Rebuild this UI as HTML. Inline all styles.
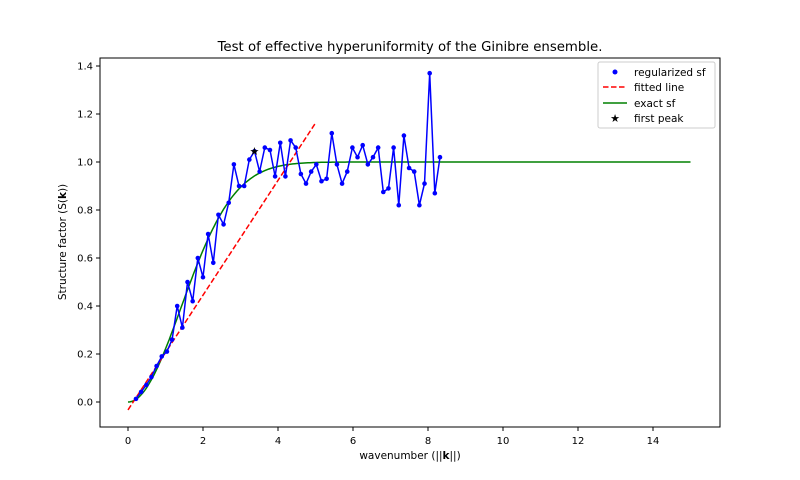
<!DOCTYPE html>
<html><head><meta charset="utf-8"><style>
body{margin:0;background:#fff;}
svg{display:block;font-family:"DejaVu Sans","Liberation Sans",sans-serif;}
</style></head><body>
<svg id="chart" width="800" height="480" xmlns="http://www.w3.org/2000/svg">
<rect width="800" height="480" fill="#fff"/>
<text x="410" y="51" text-anchor="middle" font-size="13.3">Test of effective hyperuniformity of the Ginibre ensemble.</text>
<g id="plot"></g>
<rect x="100" y="58" width="620" height="369" fill="none" stroke="#000" stroke-width="1"/>
<text x="410" y="459" text-anchor="middle" font-size="10.5">wavenumber (||<tspan font-weight="bold">k</tspan>||)</text>
<text transform="translate(66,242) rotate(-90)" text-anchor="middle" font-size="10.5">Structure factor (S(<tspan font-weight="bold">k</tspan>))</text>
<g>
<rect x="598" y="62" width="117" height="66" rx="2" fill="#fff" stroke="#ccc"/>
<circle cx="615" cy="72" r="2.5" fill="#0000ff"/>
<text x="634" y="76" font-size="10.5">regularized sf</text>
<line x1="603" y1="87" x2="627" y2="87" stroke="#ff0000" stroke-width="1.5" stroke-dasharray="5.5,2.5"/>
<text x="634" y="91" font-size="10.5">fitted line</text>
<line x1="603" y1="103" x2="627" y2="103" stroke="#008000" stroke-width="1.5"/>
<text x="634" y="107" font-size="10.5">exact sf</text>
<text x="615" y="122" font-size="11" text-anchor="middle">★</text>
<text x="634" y="122" font-size="10.5">first peak</text>
</g>
</svg>
<script>
const sfValues=[0.013,0.042,0.071,0.104,0.15,0.19,0.21,0.26,0.40,0.31,0.50,0.42,0.60,0.52,0.70,0.58,0.78,0.74,0.83,0.99,0.90,0.90,1.01,1.045,0.96,1.06,1.05,0.94,1.08,0.94,
1.09,1.06,0.95,0.91,0.96,0.99,0.92,0.93,1.12,0.99,0.91,0.96,1.06,1.02,1.07,0.99,1.02,1.06,0.875,0.89,1.06,0.82,1.11,0.975,0.96,0.82,0.91,1.37,0.87,1.02];
const kStart=0.213;
const kStep=0.1374;
const peakIndex=23;
const fitLine=[[0,-0.033],[4.99,1.16]];
const xTicks=[0,2,4,6,8,10,12,14];
const yTicks=[0.0,0.2,0.4,0.6,0.8,1.0,1.2,1.4];
const exactRange=[0,15];

const X=k=>128+k*37.5;
const Y=s=>402-s*240;
const NS="http://www.w3.org/2000/svg";
const svg=document.getElementById('chart');
const g=document.getElementById('plot');
function mk(t,a,p){const e=document.createElementNS(NS,t);for(const k in a)e.setAttribute(k,a[k]);(p||g).appendChild(e);return e;}

xTicks.forEach(v=>{
 const t=mk('line',{x1:X(v),x2:X(v),y1:427,y2:431,stroke:'#000'},svg);
 
 
 const l=mk('text',{x:X(v),y:444,'text-anchor':'middle','font-size':'10'},svg);
 l.textContent=v;
 
 
});
yTicks.forEach(v=>{
 const t=mk('line',{x1:96,x2:100,y1:Y(v),y2:Y(v),stroke:'#000'},svg);
 
 
 const l=mk('text',{x:93,y:Y(v)+3.5,'text-anchor':'end','font-size':'10'},svg);
 l.textContent=v.toFixed(1);
 
 
});

let d='';
for(let i=0;i<=300;i++){const k=exactRange[0]+(exactRange[1]-exactRange[0])*i/300;d+=(i?'L':'M')+X(k).toFixed(1)+','+Y(1-Math.exp(-k*k/4)).toFixed(1);}
const ex=mk('path',{d:d,fill:'none',stroke:'#008000','stroke-width':1.5});



const fl=mk('line',{x1:X(fitLine[0][0]),y1:Y(fitLine[0][1]),x2:X(fitLine[1][0]),y2:Y(fitLine[1][1]),stroke:'#ff0000','stroke-width':1.5,'stroke-dasharray':'5.5,2.5'});



const pts=sfValues.map((s,i)=>[X(kStart+i*kStep),Y(s)]);
const sl=mk('polyline',{points:pts.map(p=>p[0].toFixed(1)+','+p[1].toFixed(1)).join(' '),fill:'none',stroke:'#0000ff','stroke-width':1.5});


pts.forEach(p=>{
 const c=mk('circle',{cx:p[0],cy:p[1],r:2.3,fill:'#0000ff'});
 
 
});
const pk=mk('text',{x:X(kStart+peakIndex*kStep),y:Y(sfValues[peakIndex])+4,'text-anchor':'middle','font-size':'11'});
pk.textContent='★';


</script>
</body></html>
